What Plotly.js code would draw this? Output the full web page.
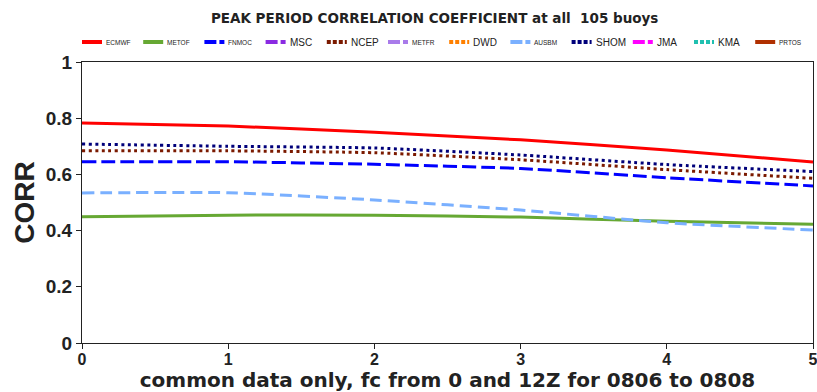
<!DOCTYPE html>
<html><head><meta charset="utf-8">
<script src="https://cdn.plot.ly/plotly-3.0.1.min.js"></script>
<style>body{margin:0;background:#fff}#c{width:817px;height:392px}</style>
</head><body><div id="c"></div>
<script>
const leadDays = [0, 1, 2, 3, 4, 5];
const ECMWF = [0.783, 0.772, 0.750, 0.723, 0.687, 0.644];
const METOF = [0.449, 0.455, 0.455, 0.448, 0.433, 0.423];
const FNMOC = [0.645, 0.645, 0.636, 0.621, 0.588, 0.559];
const NCEP  = [0.684, 0.684, 0.677, 0.652, 0.617, 0.586];
const AUSBM = [0.534, 0.535, 0.509, 0.473, 0.428, 0.402];
const SHOM  = [0.708, 0.700, 0.694, 0.669, 0.635, 0.610];
const empty = [];

const seriesNames = ["ECMWF","METOF","FNMOC","MSC","NCEP","METFR","DWD","AUSBM","SHOM","JMA","KMA","PRTOS"];
const seriesData  = [ECMWF, METOF, FNMOC, empty, NCEP, empty, empty, AUSBM, SHOM, empty, empty, empty];
const colors = ["#ff0000","#66a833","#0000ff","#8a2be2","#7b1a00","#a97bea","#ff8000","#7ab0ff","#00007a","#ff00ff","#20c0b0","#b03000"];
const dashes = ["solid","solid","14px,5px","10px,4px","3px,3.5px","14px,4px","3px,3.5px","12px,6px","3px,3.5px","10px,4px","3px,3.5px","solid"];
const legendFontSizes = [6.5,6.5,6.5,10,10,6.5,10,6.5,10,10,10,6.5];

const traces = seriesNames.map((n, i) => ({
  type: "scatter", mode: "lines", name: n,
  x: seriesData[i].length ? leadDays : [null],
  y: seriesData[i].length ? seriesData[i] : [null],
  line: {color: colors[i], width: 3, dash: dashes[i], shape: "spline", smoothing: 0.5},
  showlegend: false
}));

// custom legend (pixel-positioned like the original)
const W = 817, H = 392, L = 82, R = 4, T = 62, B = 49;
const pw = W - L - R, ph = H - T - B;
const px2x = p => (p - L) / pw;
const py2y = p => (H - B - p) / ph;
const shapes = [], annotations = [];
seriesNames.forEach((n, i) => {
  const x0 = 82 + i * 61.2;
  shapes.push({type: "line", xref: "paper", yref: "paper", x0: px2x(x0), x1: px2x(x0 + 20), y0: py2y(42), y1: py2y(42),
    line: {color: colors[i], width: 4, dash: dashes[i] === "solid" ? "solid" : (dashes[i].startsWith("3px") ? "4px,2px" : "12px,3px")}});
  annotations.push({xref: "paper", yref: "paper", x: px2x(x0 + 22), y: py2y(42.5), xanchor: "left", yanchor: "middle", showarrow: false,
    text: n, font: {family: "Liberation Sans", size: legendFontSizes[i], color: "#222"}});
});

const layout = {
  width: W, height: H,
  margin: {l: L, r: R, t: T, b: B},
  paper_bgcolor: "#fff", plot_bgcolor: "#fff",
  font: {family: "Liberation Sans, Arial, sans-serif", color: "#222"},
  showlegend: false,
  title: {text: "<b>PEAK PERIOD CORRELATION COEFFICIENT at all  105 buoys</b>", font: {family: "DejaVu Sans", size: 13.5, color: "#222"}, x: 0.532, xanchor: "center", y: 0.953, yanchor: "middle"},
  shapes: shapes, annotations: annotations,
  xaxis: {range: [0, 5], tickvals: [0,1,2,3,4,5], ticks: "outside", ticklen: 5, tickcolor: "#222", showline: true, linecolor: "#222", linewidth: 1, mirror: true, showgrid: false, zeroline: false,
    ticklabeloverflow: "allow", ticklabelstandoff: -3,
    tickfont: {size: 16, color: "#222", weight: "bold"},
    title: {text: "<b>common data only, fc from 0 and 12Z for 0806 to 0808</b>", font: {family: "DejaVu Sans", size: 20, color: "#222"}, standoff: 0}},
  yaxis: {range: [0, 1], tickvals: [0,0.2,0.4,0.6,0.8,1], ticktext: ["0","0.2","0.4","0.6","0.8","1"], ticks: "outside", ticklen: 5, tickcolor: "#222", showline: true, linecolor: "#222", linewidth: 1, mirror: true, showgrid: false, zeroline: false,
    tickfont: {size: 19, color: "#222", weight: "bold"},
    title: {text: "<b>CORR</b>", font: {size: 28, color: "#222"}, standoff: 2}}
};
Plotly.newPlot("c", traces, layout, {staticPlot: true, displayModeBar: false});
</script></body></html>
